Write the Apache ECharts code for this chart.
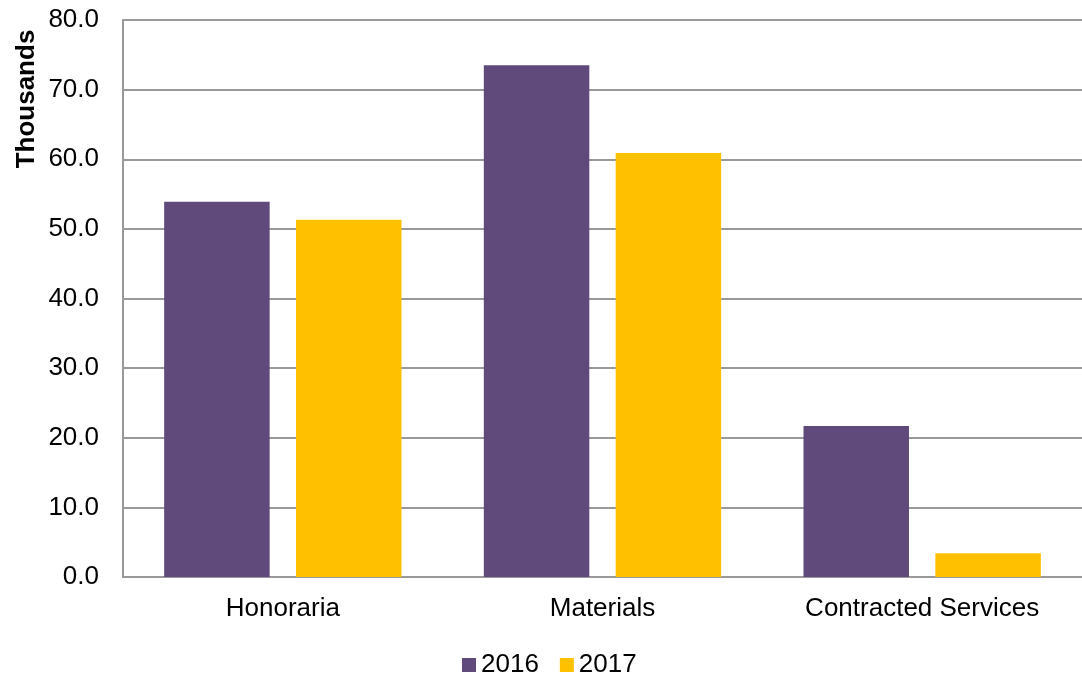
<!DOCTYPE html>
<html>
<head>
<meta charset="utf-8">
<script src="https://cdn.jsdelivr.net/npm/echarts@6/dist/echarts.min.js"></script>
<style>html,body{margin:0;padding:0;background:#fff}#c{width:1082px;height:678px}</style>
</head>
<body>
<div id="c"></div>
<script>
var categories = ['Honoraria', 'Materials', 'Contracted Services'];
var series2016 = [53.9, 73.5, 21.7];
var series2017 = [51.3, 60.9, 3.4];
var seriesNames = ['2016', '2017'];
var yTicks = { min: 0, max: 80, interval: 10 };

var chart = echarts.init(document.getElementById('c'));
var font = 'Liberation Sans, Arial, sans-serif';
chart.setOption({
  animation: false,
  grid: { left: 123, right: 0, top: 20, bottom: 101, containLabel: false },
  legend: {
    data: seriesNames,
    top: 647,
    left: 457,
    icon: 'rect',
    itemWidth: 14,
    itemHeight: 14,
    itemGap: 21,
    textStyle: { fontFamily: font, fontSize: 26, color: '#000' }
  },
  xAxis: {
    type: 'category',
    data: categories,
    axisLine: { lineStyle: { color: '#999', width: 2 } },
    axisTick: { show: false },
    axisLabel: { fontFamily: font, fontSize: 26, color: '#000', margin: 19 }
  },
  yAxis: {
    type: 'value',
    min: yTicks.min, max: yTicks.max, interval: yTicks.interval,
    axisLine: { show: true, lineStyle: { color: '#999', width: 2 } },
    axisTick: { show: false },
    splitLine: { lineStyle: { color: '#999', width: 2 } },
    axisLabel: { fontFamily: font, fontSize: 26, color: '#000', margin: 24,
      formatter: function (v) { return v.toFixed(1); } }
  },
  graphic: [{
    type: 'text',
    x: 27, y: 99,
    rotation: Math.PI / 2,
    style: { text: 'Thousands', fontFamily: font, fontSize: 26, fontWeight: 'bold', fill: '#000',
      textAlign: 'center', textVerticalAlign: 'middle' }
  }],
  series: [
    { name: seriesNames[0], type: 'bar', data: series2016, barWidth: '33%', barGap: '25%',
      itemStyle: { color: '#604A7B' } },
    { name: seriesNames[1], type: 'bar', data: series2017, barWidth: '33%',
      itemStyle: { color: '#FFC000' } }
  ]
});
</script>
</body>
</html>
